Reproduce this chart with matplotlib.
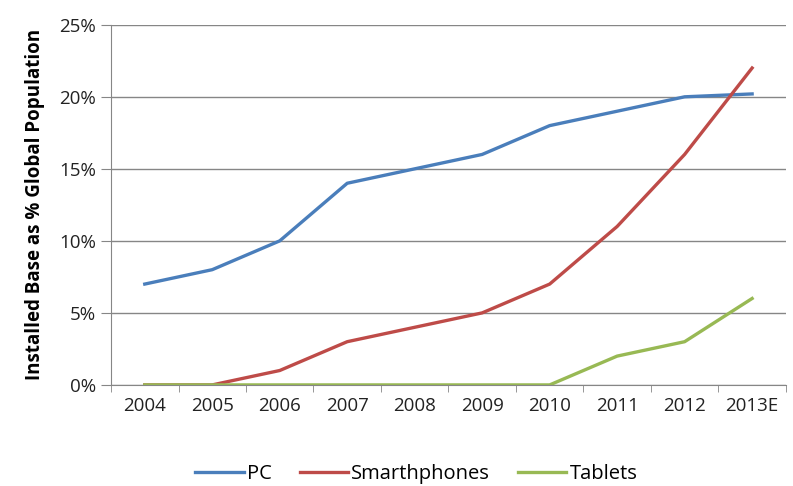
import numpy as np
import matplotlib
matplotlib.use("Agg")
import matplotlib.pyplot as plt
from matplotlib.ticker import FuncFormatter

years = ["2004", "2005", "2006", "2007", "2008", "2009", "2010", "2011", "2012", "2013E"]
pc = [7, 8, 10, 14, 15, 16, 18, 19, 20, 20.2]
smartphones = [0, 0, 1, 3, 4, 5, 7, 11, 16, 22]
tablets = [0, 0, 0, 0, 0, 0, 0, 2, 3, 6]

plt.rcParams['font.family'] = ['Open Sans', 'DejaVu Sans']

fig = plt.figure(figsize=(7.93, 4.86), dpi=100)
ax = fig.add_axes([0.14, 0.208, 0.851, 0.741])

x = np.arange(len(years))
ax.plot(x, pc, color="#4A7EBB", lw=2.4, label="PC")
ax.plot(x, smartphones, color="#BE4B48", lw=2.4, label="Smarthphones")
ax.plot(x, tablets, color="#98B954", lw=2.4, label="Tablets")

ax.set_xlim(-0.5, len(years) - 0.5)
ax.set_ylim(0, 25)
ax.set_yticks(np.arange(0, 26, 5))
ax.yaxis.set_major_formatter(FuncFormatter(lambda v, p: "%d%%" % v))
ax.set_xticks(x)
ax.set_xticklabels(years)
ax.set_xticks(np.arange(-0.5, len(years), 1), minor=True)
ax.tick_params(axis="x", which="major", length=0, pad=9)
ax.tick_params(axis="x", which="minor", length=5, color="#868686")
ax.tick_params(axis="y", length=7, color="#868686", pad=4)
ax.tick_params(labelsize=13.5, labelcolor="#222222")

ax.grid(axis="y", color="#868686", lw=1)
ax.set_axisbelow(True)
for s in ["top", "right"]:
    ax.spines[s].set_visible(False)
for s in ["left", "bottom"]:
    ax.spines[s].set_color("#868686")

ax.set_ylabel("Installed Base as % Global Population", fontsize=13.5,
              fontweight="bold", labelpad=10)

fig.legend(loc="lower center", bbox_to_anchor=(0.525, -0.034), ncol=3,
           frameon=False, fontsize=14.5, handlelength=2.4, columnspacing=1.4,
           handletextpad=0.15)

fig.savefig("out.png", dpi=100)
